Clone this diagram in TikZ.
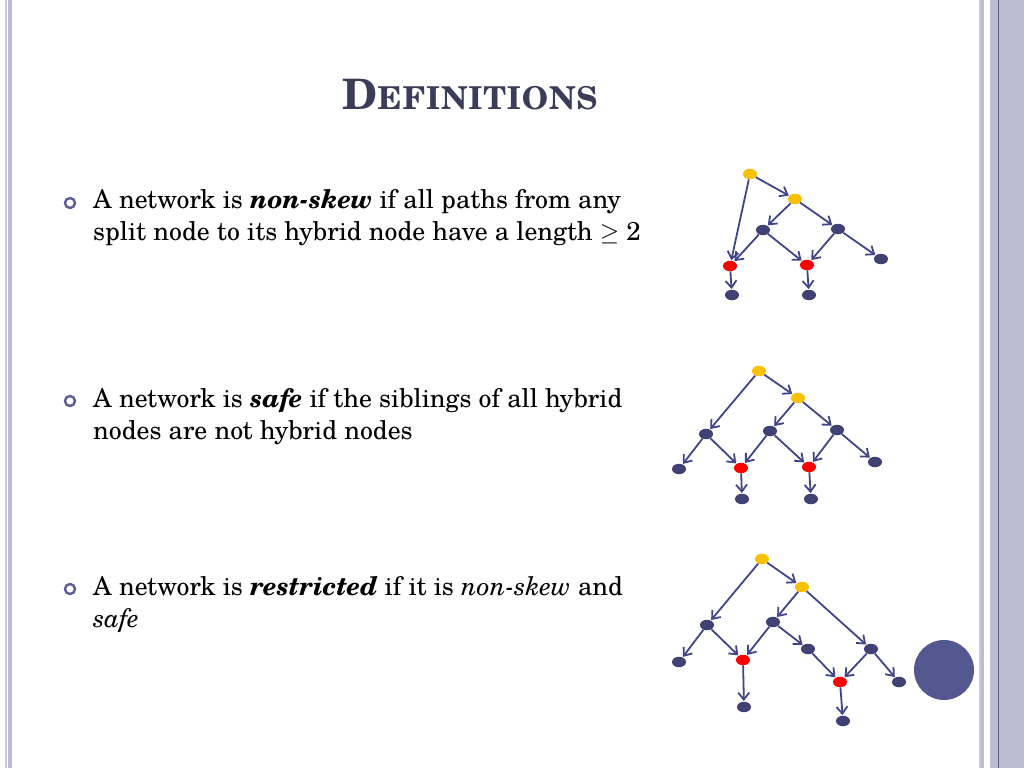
\documentclass[tikz,border=0pt]{standalone}
\usepackage{fontspec}
\setmainfont{texgyreschola}[Extension=.otf, UprightFont=*-regular, BoldFont=*-bold, ItalicFont=*-italic, BoldItalicFont=*-bolditalic]
\usetikzlibrary{arrows.meta,shapes.geometric}
\definecolor{lav}{HTML}{BDBCD3}
\definecolor{lavlight}{HTML}{CCCAE0}
\definecolor{lavdark}{HTML}{5B5B80}
\definecolor{titlecol}{HTML}{3B3C58}
\definecolor{bulletcol}{HTML}{5A5C95}
\definecolor{nodeblue}{HTML}{3F4272}
\definecolor{edgeblue}{HTML}{40458A}
\definecolor{nodeyellow}{HTML}{F7C000}
\definecolor{nodered}{HTML}{FF0000}
\definecolor{circlecol}{HTML}{545890}
\tikzset{
  vb/.style={ellipse, minimum width=14pt, minimum height=10.5pt, inner sep=0pt, fill=nodeblue},
  vy/.style={vb, fill=nodeyellow},
  vr/.style={vb, fill=nodered},
  arc/.style={draw=edgeblue, line width=1.8pt, -{Straight Barb[length=7pt,width=11pt]}, shorten >=0.5pt},
  bodytext/.style={anchor=base west, inner sep=0pt, align=left, font=\fontsize{25.8}{32}\selectfont, text=black},
  bulletmark/.style={circle, draw=bulletcol, line width=2.4pt, minimum size=10pt, inner sep=0pt}
}
\begin{document}
\begin{tikzpicture}[x=1pt,y=-1pt]
\useasboundingbox (0,0) rectangle (1024,768);
\fill[white] (0,0) rectangle (1024,768);
% borders
\fill[lavlight] (5,0) rectangle (7,768);
\fill[lav] (8,0) rectangle (12,768);
\fill[lavlight] (979,0) rectangle (980.5,768);
\fill[lav] (980.5,0) rectangle (983.5,768);
\fill[lav] (990,0) rectangle (1024,768);
\fill[lavdark] (998,0) rectangle (999,768);
% title
\node[anchor=base, inner sep=0pt, text=titlecol, font=\bfseries\addfontfeature{LetterSpace=3}] (title) at (470,109)
  {\fontsize{42}{43}\selectfont D\fontsize{31.5}{32}\selectfont EFINITIONS};
% bullets
\node[bulletmark] (b1) at (70,203) {};
\node[bodytext] (t1) at (93,240) {A network is \textbf{\textit{non-skew}} if all paths from any\\split node to its hybrid node have a length $\geq$ 2};
\node[bulletmark] (b2) at (70,401) {};
\node[bodytext] (t2) at (93,439) {A network is \textbf{\textit{safe}} if the siblings of all hybrid\\nodes are not hybrid nodes};
\node[bulletmark] (b3) at (70,589) {};
\node[bodytext] (t3) at (93,627) {A network is \textbf{\textit{restricted}} if it is \textit{non-skew} and\\\textit{safe}};
% graph 1
\node[vy] (a1) at (750,174) {};
\node[vy] (a2) at (795,199) {};
\node[vb] (a3) at (763,230) {};
\node[vb] (a4) at (838,229) {};
\node[vr] (a5) at (730,266) {};
\node[vr] (a6) at (807,265) {};
\node[vb] (a7) at (881,259) {};
\node[vb] (a8) at (732,295) {};
\node[vb] (a9) at (809,295) {};
\draw[arc] (a1) -- (a2);
\draw[arc] (a1) -- (a5);
\draw[arc] (a2) -- (a3);
\draw[arc] (a2) -- (a4);
\draw[arc] (a3) -- (a5);
\draw[arc] (a3) -- (a6);
\draw[arc] (a4) -- (a6);
\draw[arc] (a4) -- (a7);
\draw[arc] (a5) -- (a8);
\draw[arc] (a6) -- (a9);
% graph 2
\node[vy] (c1) at (759,371) {};
\node[vy] (c2) at (798,398) {};
\node[vb] (c3) at (706,434) {};
\node[vb] (c4) at (770,431) {};
\node[vb] (c5) at (837,430) {};
\node[vb] (c6) at (679,469) {};
\node[vr] (c7) at (741,468) {};
\node[vr] (c8) at (809,467) {};
\node[vb] (c9) at (875,462) {};
\node[vb] (c10) at (742,499) {};
\node[vb] (c11) at (811,499) {};
\draw[arc] (c1) -- (c2);
\draw[arc] (c1) -- (c3);
\draw[arc] (c2) -- (c4);
\draw[arc] (c2) -- (c5);
\draw[arc] (c3) -- (c6);
\draw[arc] (c3) -- (c7);
\draw[arc] (c4) -- (c7);
\draw[arc] (c4) -- (c8);
\draw[arc] (c5) -- (c8);
\draw[arc] (c5) -- (c9);
\draw[arc] (c7) -- (c10);
\draw[arc] (c8) -- (c11);
% graph 3
\node[vy] (d1) at (762,559) {};
\node[vy] (d2) at (802,587) {};
\node[vb] (d3) at (707,625) {};
\node[vb] (d4) at (773,622) {};
\node[vb] (d5) at (679,662) {};
\node[vr] (d6) at (743,660) {};
\node[vb] (d7) at (808,649) {};
\node[vb] (d8) at (871,649) {};
\node[vr] (d9) at (840,682) {};
\node[vb] (d10) at (899,682) {};
\node[vb] (d11) at (744,707) {};
\node[vb] (d12) at (843,721) {};
\draw[arc] (d1) -- (d2);
\draw[arc] (d1) -- (d3);
\draw[arc] (d2) -- (d4);
\draw[arc] (d2) -- (d8);
\draw[arc] (d3) -- (d5);
\draw[arc] (d3) -- (d6);
\draw[arc] (d4) -- (d6);
\draw[arc] (d4) -- (d7);
\draw[arc] (d7) -- (d9);
\draw[arc] (d8) -- (d9);
\draw[arc] (d8) -- (d10);
\draw[arc] (d6) -- (d11);
\draw[arc] (d9) -- (d12);
% decorative circle
\fill[circlecol] (944,670) circle (30);
\end{tikzpicture}
\end{document}
